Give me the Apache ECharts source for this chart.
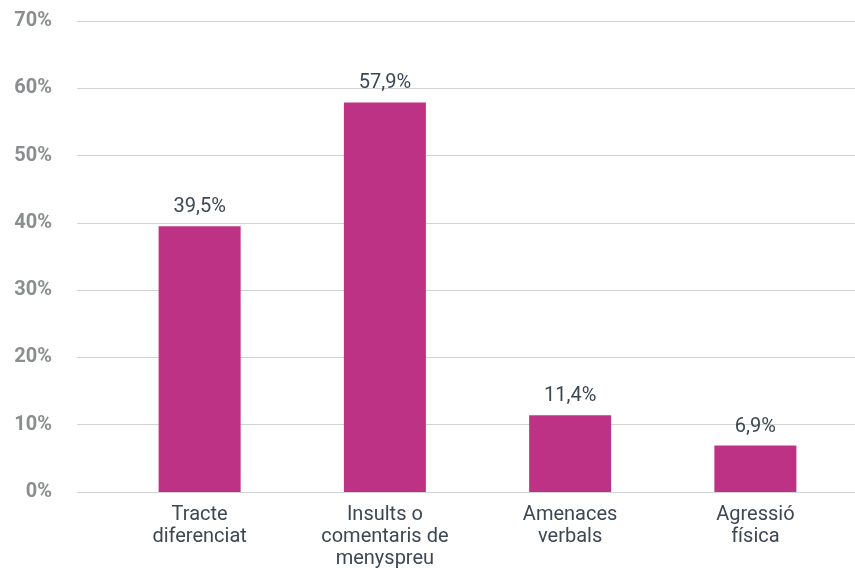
<!DOCTYPE html>
<html>
<head>
<meta charset="utf-8">
<script src="https://cdn.jsdelivr.net/npm/echarts@6/dist/echarts.min.js"></script>
<style>
  html, body { margin: 0; padding: 0; background: #fff; }
  #chart { width: 855px; height: 568px; }
</style>
</head>
<body>
<div id="chart"></div>
<script>
  // dades
  var categories = ['Tracte\ndiferenciat', 'Insults o\ncomentaris de\nmenyspreu', 'Amenaces\nverbals', 'Agressió\nfísica']
  var values = [39.5, 57.9, 11.4, 6.9]
  var yTicks = [0, 10, 20, 30, 40, 50, 60, 70]

  var textColor = '#3d4753'
  var font = 'Roboto, "Noto Sans", sans-serif'

  var chart = echarts.init(document.getElementById('chart'))
  var option = {
    animation: false,
    grid: [
      // fons amb les línies horitzontals
      { left: 77, right: 0, top: 21, bottom: 76, outerBoundsMode: 'none' },
      // barres
      { left: 107, right: 7, top: 21, bottom: 76, outerBoundsMode: 'none' }
    ],
    xAxis: [
      {
        gridIndex: 0,
        type: 'category',
        data: categories,
        show: false
      },
      {
        gridIndex: 1,
        type: 'category',
        data: categories,
        axisLine: { show: false },
        axisTick: { show: false },
        axisLabel: {
          color: textColor,
          fontFamily: font,
          fontSize: 20,
          lineHeight: 22,
          margin: 12,
          interval: 0
        }
      }
    ],
    yAxis: [
      {
        gridIndex: 0,
        type: 'value',
        min: yTicks[0],
        max: yTicks[yTicks.length - 1],
        interval: 10,
        axisLine: { show: false },
        axisTick: { show: false },
        axisLabel: {
          color: '#8a8e8e',
          fontFamily: font,
          fontWeight: 'bold',
          fontSize: 20,
          margin: 25,
          padding: [4, 0, 0, 0],
          formatter: '{value}%'
        },
        splitLine: { lineStyle: { color: '#cfd3d3', width: 1 } }
      },
      {
        gridIndex: 1,
        type: 'value',
        min: yTicks[0],
        max: yTicks[yTicks.length - 1],
        show: false,
        splitLine: { show: false }
      }
    ],
    series: [
      {
        type: 'bar',
        xAxisIndex: 1,
        yAxisIndex: 1,
        data: values,
        barWidth: 82,
        itemStyle: { color: '#be3286' },
        label: {
          show: true,
          position: 'top',
          distance: 9,
          color: textColor,
          fontFamily: font,
          fontSize: 20,
          formatter: function (p) {
            return p.value.toFixed(1).replace('.', ',') + '%'
          }
        }
      }
    ]
  }
  chart.setOption(option)
</script>
</body>
</html>
